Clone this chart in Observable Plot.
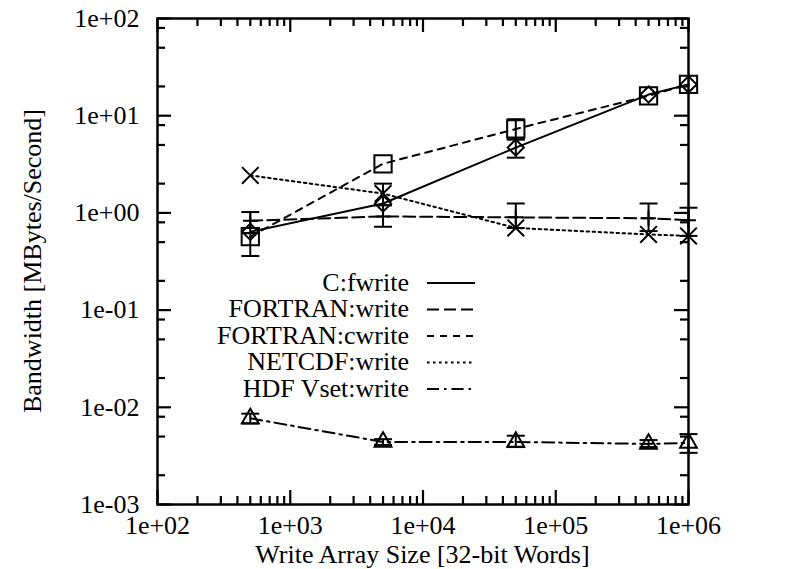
<!DOCTYPE html>
<html>
<head>
<meta charset="utf-8">
<script src="https://cdn.jsdelivr.net/npm/d3@7"></script>
<script src="https://cdn.jsdelivr.net/npm/@observablehq/plot@0.6"></script>
<style>
  html, body { margin: 0; padding: 0; background: white; }
</style>
</head>
<body>
<div id="chart"></div>
<script>
// ---- data ----
const sizes = [500, 5000, 50000, 500000, 1000000];
const seriesNames = ["C:fwrite", "FORTRAN:write", "FORTRAN:cwrite", "NETCDF:write", "HDF Vset:write"];
const cFwrite   = [0.64, 1.25, 4.7, 16.5, 21];
const fWrite    = [0.83, 0.92, 0.90, 0.88, 0.84];
const fCwrite   = [0.57, 3.2, 7.3, 16, 21];
const netcdf    = [2.43, 1.58, 0.70, 0.60, 0.58];
const hdf       = [0.0077, 0.0044, 0.0044, 0.0042, 0.0043];
// error bars (low / high), null = none
const cFwriteLo = [null, null, 3.7, null, null];
const cFwriteHi = [null, null, 5.7, null, null];
const fWriteLo  = [0.62, 0.72, 0.70, 0.65, 0.58];
const fWriteHi  = [1.02, 1.20, 1.25, 1.25, 1.13];
const fCwriteLo = [0.36, null, 5.7, null, null];
const fCwriteHi = [0.62, null, 9.2, null, null];
const netcdfLo  = [null, 1.20, null, null, null];
const netcdfHi  = [null, 2.00, null, null, null];
const hdfLo     = [0.0068, 0.0041, 0.0039, 0.0039, 0.0034];
const hdfHi     = [0.0086, 0.0047, 0.0051, 0.0046, 0.0053];

const xMajor = [1e2, 1e3, 1e4, 1e5, 1e6];
const yMajor = [1e-3, 1e-2, 1e-1, 1e0, 1e1, 1e2];
const xMinorMult = [2, 3, 4, 5, 6, 7, 8, 9];
const yMinorMult = [2, 5, 8];
const xLabel = "Write Array Size [32-bit Words]";
const yLabel = "Bandwidth [MBytes/Second]";

// ---- build tables ----
const values = [cFwrite, fWrite, fCwrite, netcdf, hdf];
const los = [cFwriteLo, fWriteLo, fCwriteLo, netcdfLo, hdfLo];
const his = [cFwriteHi, fWriteHi, fCwriteHi, netcdfHi, hdfHi];
const symbols = ["diamond2", "plus", "square2", "times", "triangle2"];
const symR = [7.3, 4.8, 11, 7.6, 8];
const dashes = [null, "12,5", "7,6", "2.5,3.5", "12,5,2.5,5"];

const rows = [];
const errs = [];
seriesNames.forEach((name, i) => {
  sizes.forEach((s, j) => {
    rows.push({series: name, size: s, value: values[i][j], idx: i});
    if (los[i][j] != null) errs.push({series: name, size: s, lo: los[i][j], hi: his[i][j]});
  });
});
const xMinor = [];
for (let d = 1e2; d < 1e6; d *= 10) xMinorMult.forEach(m => xMinor.push(d * m));
const yMinor = [];
for (let d = 1e-3; d < 1e2; d *= 10) yMinorMult.forEach(m => yMinor.push(d * m));

const fmt = d => {
  const e = Math.round(Math.log10(d));
  return "1e" + (e < 0 ? "-" : "+") + String(Math.abs(e)).padStart(2, "0");
};

const W = 792, H = 569, mL = 157, mR = 104, mT = 18, mB = 65;
const fH = H - mT - mB, fW = W - mL - mR;
const FS = 26;
const font = "'Liberation Serif', 'Times New Roman', serif";

const capSymbol = {
  draw(context, size) {
    const w = Math.sqrt(size / Math.PI);
    context.moveTo(-w, 0);
    context.lineTo(w, 0);
  }
};

const lineMarks = seriesNames.map((name, i) =>
  Plot.line(rows.filter(r => r.idx === i), {
    x: "size", y: "value", stroke: "black", strokeWidth: 2,
    strokeDasharray: dashes[i]
  })
);
const dotMarks = seriesNames.map((name, i) =>
  Plot.dot(rows.filter(r => r.idx === i), {
    x: "size", y: "value", stroke: "black", fill: "none", strokeWidth: 2,
    symbol: () => symbols[i], r: symR[i]
  })
);

const chart = Plot.plot({
  width: W, height: H,
  marginLeft: mL, marginRight: mR, marginTop: mT, marginBottom: mB,
  style: {fontFamily: font, fontSize: FS + "px", background: "white", color: "black"},
  x: {type: "log", domain: [1e2, 1e6]},
  y: {type: "log", domain: [1e-3, 1e2]},
  symbol: {type: "identity"},
  marks: [
    Plot.frame({stroke: "black", strokeWidth: 2.5}),
    // inward ticks, all four sides
    Plot.tickX(xMajor, {x: d => d, insetTop: fH - 14, strokeWidth: 2.2}),
    Plot.tickX(xMajor, {x: d => d, insetBottom: fH - 14, strokeWidth: 2.2}),
    Plot.tickX(xMinor, {x: d => d, insetTop: fH - 8, strokeWidth: 2.2}),
    Plot.tickX(xMinor, {x: d => d, insetBottom: fH - 8, strokeWidth: 2.2}),
    Plot.tickY(yMajor, {y: d => d, insetRight: fW - 14, strokeWidth: 2.2}),
    Plot.tickY(yMajor, {y: d => d, insetLeft: fW - 14, strokeWidth: 2.2}),
    Plot.tickY(yMinor, {y: d => d, insetRight: fW - 8, strokeWidth: 2.2}),
    Plot.tickY(yMinor, {y: d => d, insetLeft: fW - 8, strokeWidth: 2.2}),
    Plot.axisX(xMajor, {tickSize: 0, tickPadding: 11, tickFormat: fmt, label: null, fontSize: FS}),
    Plot.axisY(yMajor, {tickSize: 0, tickPadding: 18, tickFormat: fmt, label: null, fontSize: FS}),
    // error bars
    Plot.ruleX(errs, {x: "size", y1: "lo", y2: "hi", stroke: "black", strokeWidth: 2}),
    Plot.dot(errs, {x: "size", y: "lo", symbol: () => capSymbol, r: 9, stroke: "black", strokeWidth: 2}),
    Plot.dot(errs, {x: "size", y: "hi", symbol: () => capSymbol, r: 9, stroke: "black", strokeWidth: 2}),
    ...lineMarks,
    ...dotMarks
  ]
});
document.getElementById("chart").appendChild(chart);

// ---- titles and legend overlay ----
const svg = d3.select(chart);
svg.append("text")
  .attr("transform", `translate(32,${mT + fH / 2}) rotate(-90)`)
  .attr("text-anchor", "middle").attr("dominant-baseline", "central")
  .attr("font-family", font).attr("font-size", FS).attr("fill", "black")
  .text(yLabel);
svg.append("text")
  .attr("x", mL + fW / 2).attr("y", 554)
  .attr("text-anchor", "middle").attr("dominant-baseline", "central")
  .attr("font-family", font).attr("font-size", FS).attr("fill", "black")
  .text(xLabel);

const leg = svg.append("g");
seriesNames.forEach((name, i) => {
  const y = 282 + i * 26.5;
  leg.append("text")
    .attr("x", 409).attr("y", y)
    .attr("text-anchor", "end").attr("dominant-baseline", "central")
    .attr("font-family", font).attr("font-size", FS).attr("fill", "black")
    .text(name);
  leg.append("line")
    .attr("x1", 427).attr("x2", 475).attr("y1", y + 1).attr("y2", y + 1)
    .attr("stroke", "black").attr("stroke-width", 2)
    .attr("stroke-dasharray", dashes[i]);
});
</script>
</body>
</html>
